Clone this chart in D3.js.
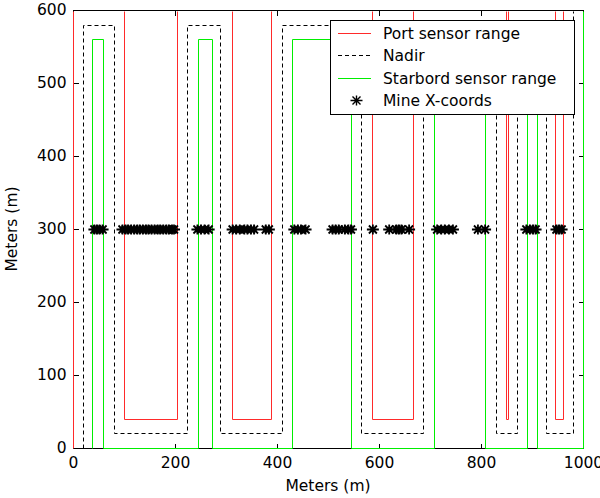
<!DOCTYPE html>
<html>
<head>
<meta charset="utf-8">
<script src="https://cdn.jsdelivr.net/npm/d3@7"></script>
<style>
  body { margin: 0; background: #fff; }
  text { font-family: "DejaVu Sans", sans-serif; font-size: 15.5px; fill: #000; }
</style>
</head>
<body>
<div class="container"></div>
<script>
// lane x positions (meters)
const portX = [0, 100, 204, 312, 388, 586, 666, 849, 852, 946, 961];
const nadirX = [20, 80, 223, 288, 410, 564, 687, 829, 871, 927, 980];
const starX = [38, 58, 246, 272, 429, 545, 707, 808, 890, 909, 1000];
// turn heights [bottom, top] of each track
const portY = [40, 600];
const nadirY = [20, 580];
const starY = [0, 560];
const startY = 0;
const endY = 600;
// mine x coords, all at y = 300
const mineX = [42, 47, 52, 58,
  97, 103, 108, 114, 120, 126, 131, 137, 143, 148, 154, 160, 166, 171, 177, 183, 188, 194, 198,
  244, 251, 258, 266,
  313, 320, 327, 336, 342, 349, 355,
  378, 384,
  434, 441, 447, 456,
  509, 515, 521, 533, 540, 545,
  588,
  620, 634, 639, 644, 659,
  714, 722, 729, 737, 745,
  794, 808,
  889, 896, 902, 907,
  948, 953, 958];
const mineY = 300;
const xTicks = [0, 200, 400, 600, 800, 1000];
const yTicks = [0, 100, 200, 300, 400, 500, 600];
const legendLabels = ["Port sensor range", "Nadir", "Starbord sensor range", "Mine X-coords"];

const width = 600;
const height = 498;
const red = "#ff2a2a";
const green = "#00ee00";

const x = d3.scaleLinear().domain([0, 1000]).range([73, 583]);
const y = d3.scaleLinear().domain([0, 600]).range([448, 10]);
// snap to pixel centres so 1px lines stay solid
const px = v => Math.round(x(v)) + 0.5;
const py = v => Math.round(y(v)) + 0.5;

const svg = d3.select("div.container").append("svg")
  .attr("width", width).attr("height", height);

// axes, ticks pointing inwards like matlab
const fmt = d3.format("d");
svg.append("g").attr("transform", `translate(0,${py(0)})`)
  .call(d3.axisBottom(x).tickValues(xTicks).tickFormat(fmt).tickSizeInner(-5).tickSizeOuter(0).tickPadding(8));
svg.append("g").attr("transform", `translate(0,${py(600)})`)
  .call(d3.axisTop(x).tickValues(xTicks).tickSizeInner(-5).tickSizeOuter(0).tickFormat(""));
svg.append("g").attr("transform", `translate(${px(0)},0)`)
  .call(d3.axisLeft(y).tickValues(yTicks).tickFormat(fmt).tickSizeInner(-5).tickSizeOuter(0).tickPadding(7));
svg.append("g").attr("transform", `translate(${px(1000)},0)`)
  .call(d3.axisRight(y).tickValues(yTicks).tickSizeInner(-5).tickSizeOuter(0).tickFormat(""));
svg.selectAll(".domain").remove();
svg.selectAll(".tick line").attr("stroke", "#000").attr("shape-rendering", "crispEdges");
svg.selectAll(".tick text").style("font-size", "15.5px").style("font-family", "DejaVu Sans").attr("fill", "#000");

svg.append("rect")
  .attr("x", px(0)).attr("y", py(600))
  .attr("width", px(1000) - px(0)).attr("height", py(0) - py(600))
  .attr("fill", "none").attr("stroke", "#000");

// axis names
svg.append("text").attr("x", (x(0) + x(1000)) / 2).attr("y", 491)
  .attr("text-anchor", "middle").text("Meters (m)");
svg.append("text")
  .attr("transform", `translate(17,${(y(0) + y(600)) / 2}) rotate(-90)`)
  .attr("text-anchor", "middle").text("Meters (m)");

// lawnmower track from lane positions
function track(xs, ys) {
  const pts = [[xs[0], startY]];
  xs.forEach((lx, i) => {
    const last = i === xs.length - 1;
    const turn = i % 2 === 0 ? (last ? endY : ys[1]) : ys[0];
    pts.push([lx, turn]);
    if (!last) pts.push([xs[i + 1], turn]);
  });
  return pts;
}

svg.append("clipPath").attr("id", "plot")
  .append("rect").attr("x", px(0) - 1).attr("y", py(600) + 1)
  .attr("width", px(1000) - px(0) + 2).attr("height", py(0) - py(600) + 1);

const plot = svg.append("g").attr("clip-path", "url(#plot)");
const line = d3.line().x(d => px(d[0])).y(d => py(d[1]));

plot.append("path").datum(track(portX, portY)).attr("d", line)
  .attr("fill", "none").attr("stroke", red).attr("stroke-width", 1);
plot.append("path").datum(track(nadirX, nadirY)).attr("d", line)
  .attr("fill", "none").attr("stroke", "#000").attr("stroke-width", 1)
  .attr("stroke-dasharray", "4,3");
plot.append("path").datum(track(starX, starY)).attr("d", line)
  .attr("fill", "none").attr("stroke", green).attr("stroke-width", 1);

const star = "M-6,0L6,0M0,-5L0,5M-4,-4L4,4M-4,4L4,-4";
plot.selectAll("path.mine").data(mineX).enter().append("path")
  .attr("class", "mine")
  .attr("transform", d => `translate(${x(d)},${py(mineY)})`)
  .attr("d", star).attr("fill", "none").attr("stroke", "#000").attr("stroke-width", 1.8);

// legend
const lg = svg.append("g");
lg.append("rect").attr("x", 330.5).attr("y", 20.5).attr("width", 244).attr("height", 94)
  .attr("fill", "#fff").attr("stroke", "#000");
const rowY = i => Math.round(33 + i * 22.3) + 0.5;
lg.append("line").attr("x1", 338).attr("x2", 371).attr("y1", rowY(0)).attr("y2", rowY(0))
  .attr("stroke", red);
lg.append("line").attr("x1", 338).attr("x2", 371).attr("y1", rowY(1)).attr("y2", rowY(1))
  .attr("stroke", "#000").attr("stroke-dasharray", "4,3");
lg.append("line").attr("x1", 338).attr("x2", 371).attr("y1", rowY(2)).attr("y2", rowY(2))
  .attr("stroke", green);
lg.append("path").attr("transform", `translate(356.5,${rowY(3)})`).attr("d", star)
  .attr("fill", "none").attr("stroke", "#000").attr("stroke-width", 1.4);
lg.selectAll("text.lab").data(legendLabels).enter().append("text")
  .attr("class", "lab").attr("x", 383).attr("y", (d, i) => rowY(i))
  .attr("dy", "0.36em").text(d => d);
</script>
</body>
</html>
